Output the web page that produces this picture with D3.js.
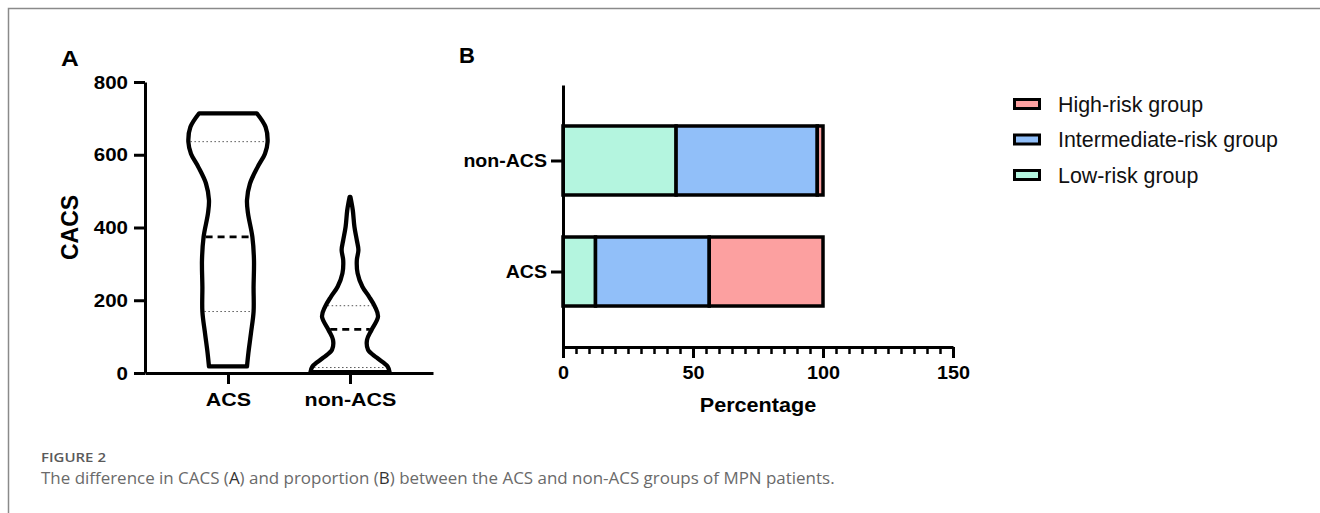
<!DOCTYPE html>
<html>
<head>
<meta charset="utf-8">
<script src="https://cdn.jsdelivr.net/npm/d3@7"></script>
<style>
  body { margin: 0; background: #fff; }
  svg text { font-family: "Liberation Sans", Arial, sans-serif; }
</style>
</head>
<body>
<script>
const w = 1320;
const h = 513;

// panel A: violin outlines (CACS value, relative half-width)
const groups = ["ACS", "non-ACS"];
const acsCacs = [18, 55, 110, 169, 237, 310, 374, 439, 475, 521, 566, 603, 635, 676, 714];
const acsDensity = [0.475, 0.51, 0.575, 0.64, 0.64, 0.65, 0.61, 0.5, 0.475, 0.55, 0.74, 0.925, 0.99, 0.94, 0.72];
const nonAcsCacs = [2, 18, 42, 64, 91, 119, 155, 182, 210, 237, 274, 310, 338, 365, 402, 447, 484];
const nonAcsDensity = [0.99, 0.94, 0.67, 0.45, 0.425, 0.54, 0.7, 0.625, 0.475, 0.31, 0.19, 0.17, 0.21, 0.17, 0.11, 0.07, 0.01];
// quartiles: lower, median, upper
const acsQuartiles = [169, 374, 636];
const nonAcsQuartiles = [15, 120, 185];
const cacsTicks = [0, 200, 400, 600, 800];

// panel B: percentage of each risk group
const categories = ["non-ACS", "ACS"];
const riskGroups = ["Low-risk group", "Intermediate-risk group", "High-risk group"];
const lowRisk = [43.5, 12.5];
const intermediateRisk = [54.3, 43.75];
const highRisk = [2.2, 43.75];
const percentTicks = [0, 50, 100, 150];
const legendOrder = ["High-risk group", "Intermediate-risk group", "Low-risk group"];

const colors = {
  "Low-risk group": "#b4f5df",
  "Intermediate-risk group": "#91bff9",
  "High-risk group": "#fca0a0"
};

const svg = d3.select("body").append("svg").attr("width", w).attr("height", h);

// widen text horizontally around its own x (the source figure is a bit stretched)
function stretch(sel, k) {
  sel.each(function () {
    const x = +this.getAttribute("x") || 0;
    d3.select(this).attr("transform", "matrix(" + k + ",0,0,1," + ((1 - k) * x) + ",0)");
  });
}

function styleAxis(g, size, k) {
  g.select(".domain").attr("stroke-width", 3);
  g.selectAll(".tick line").attr("stroke-width", 3);
  const t = g.selectAll("text")
    .attr("fill", "#000")
    .style("font-size", size + "px")
    .style("font-weight", "bold")
    .style("font-family", "'Liberation Sans', Arial, sans-serif");
  if (k) stretch(t, k);
}

// frame around the figure
svg.append("path")
  .attr("d", "M8.5," + h + "V8.5H" + w)
  .attr("fill", "none")
  .attr("stroke", "#8a8a8a")
  .attr("stroke-width", 1.5);

// ---------- panel A ----------
const aLeft = 145, aRight = 433, aTop = 82, aBottom = 373;

const yA = d3.scaleLinear().domain([0, 800]).range([aBottom, aTop]);
const xA = d3.scalePoint().domain(groups).range([aLeft, aRight]).padding(0.68);
const widthA = d3.scaleLinear().domain([0, 1]).range([0, 40]);

const panelA = svg.append("g");

const violins = [
  { name: "ACS", cacs: acsCacs, density: acsDensity, q: acsQuartiles },
  { name: "non-ACS", cacs: nonAcsCacs, density: nonAcsDensity, q: nonAcsQuartiles }
];

violins.forEach(function (v) {
  const cx = xA(v.name);
  const pts = v.cacs.map((c, i) => ({ c: c, d: v.density[i] }));
  const area = d3.area()
    .curve(d3.curveCatmullRom.alpha(0.5))
    .y(d => yA(d.c))
    .x0(d => cx - widthA(d.d))
    .x1(d => cx + widthA(d.d));

  const halfAt = d3.scaleLinear().domain(v.cacs).range(v.density);

  v.q.forEach(function (q, i) {
    const hw = widthA(halfAt(q)) - 2;
    panelA.append("line")
      .attr("x1", cx - hw).attr("x2", cx + hw)
      .attr("y1", yA(q)).attr("y2", yA(q))
      .attr("stroke", i === 1 ? "#000" : "#555")
      .attr("stroke-width", i === 1 ? 2.8 : 1)
      .attr("stroke-dasharray", i === 1 ? "7,5" : "1.5,2.5");
  });

  panelA.append("path")
    .attr("d", area(pts))
    .attr("fill", "none")
    .attr("stroke", "#000")
    .attr("stroke-width", 4.3)
    .attr("stroke-linejoin", "round");
});

const yAxisA = panelA.append("g")
  .attr("transform", "translate(" + aLeft + ",0)")
  .call(d3.axisLeft(yA).tickValues(cacsTicks).tickSize(11).tickSizeOuter(0).tickPadding(6));
styleAxis(yAxisA, 19, 1.08);

const xAxisA = panelA.append("g")
  .attr("transform", "translate(0," + aBottom + ")")
  .call(d3.axisBottom(xA).tickSize(11).tickSizeOuter(0).tickPadding(9));
styleAxis(xAxisA, 19, 1.13);

panelA.append("text")
  .attr("transform", "translate(78,227.5) rotate(-90) scale(1,1.07)")
  .attr("text-anchor", "middle")
  .style("font-size", "23px")
  .style("font-weight", "bold")
  .text("CACS");

const labelA = panelA.append("text")
  .attr("x", 61).attr("y", 66)
  .style("font-size", "22px")
  .style("font-weight", "bold")
  .text("A");
stretch(labelA, 1.12);

// ---------- panel B ----------
const bLeft = 563, bRight = 953, bTop = 85, bBottom = 347;

const xB = d3.scaleLinear().domain([0, 150]).range([bLeft, bRight]);
const yB = d3.scalePoint().domain(categories).range([bTop, bBottom]).padding(0.68);
const barHeight = 69;

const table = categories.map((c, i) => ({
  category: c,
  "Low-risk group": lowRisk[i],
  "Intermediate-risk group": intermediateRisk[i],
  "High-risk group": highRisk[i]
}));

const stacked = d3.stack().keys(riskGroups)(table);

const panelB = svg.append("g");

panelB.selectAll(".layer")
  .data(stacked)
  .enter()
  .append("g")
  .attr("class", "layer")
  .attr("fill", d => colors[d.key])
  .selectAll("rect")
  .data(d => d)
  .enter()
  .append("rect")
  .attr("x", d => xB(d[0]))
  .attr("y", d => yB(d.data.category) - barHeight / 2)
  .attr("width", d => xB(d[1]) - xB(d[0]))
  .attr("height", barHeight)
  .attr("stroke", "#000")
  .attr("stroke-width", 3.5);

const minorB = panelB.append("g")
  .attr("transform", "translate(0," + bBottom + ")")
  .call(d3.axisBottom(xB).tickValues(d3.range(0, 151, 5)).tickSize(7).tickFormat(""));
minorB.select(".domain").remove();
minorB.selectAll(".tick line").attr("stroke-width", 2.5);

const xAxisB = panelB.append("g")
  .attr("transform", "translate(0," + bBottom + ")")
  .call(d3.axisBottom(xB).tickValues(percentTicks).tickSize(11).tickSizeOuter(0).tickPadding(8));
styleAxis(xAxisB, 18, 1.1);

const yAxisB = panelB.append("g")
  .attr("transform", "translate(" + bLeft + ",0)")
  .call(d3.axisLeft(yB).tickSize(12).tickSizeOuter(0).tickPadding(4));
styleAxis(yAxisB, 19, 1.03);

const pct = panelB.append("text")
  .attr("x", (bLeft + bRight) / 2).attr("y", 412)
  .attr("text-anchor", "middle")
  .style("font-size", "21px")
  .style("font-weight", "bold")
  .text("Percentage");
stretch(pct, 1.03);

panelB.append("text")
  .attr("x", 459).attr("y", 63)
  .style("font-size", "22px")
  .style("font-weight", "bold")
  .text("B");

// legend
const legend = panelB.selectAll(".legend")
  .data(legendOrder)
  .enter()
  .append("g")
  .attr("class", "legend")
  .attr("transform", (d, i) => "translate(1013," + (104 + i * 35.5) + ")");

legend.append("rect")
  .attr("x", 1.5).attr("y", -4.5)
  .attr("width", 25).attr("height", 9)
  .attr("fill", d => colors[d])
  .attr("stroke", "#000")
  .attr("stroke-width", 3);

legend.append("text")
  .attr("x", 45).attr("y", 7.5)
  .style("font-size", "21.4px")
  .attr("fill", "#111")
  .text(d => d);

// caption
const figLabel = svg.append("text")
  .attr("x", 41).attr("y", 462)
  .attr("fill", "#5a5a5a")
  .style("font-family", "'Open Sans', Lato, sans-serif")
  .style("font-size", "12.5px")
  .style("font-weight", "600")
  .text("FIGURE 2");
stretch(figLabel, 65 / figLabel.node().getComputedTextLength());

const caption = svg.append("text")
  .attr("x", 41).attr("y", 484)
  .attr("fill", "#6a6a6a")
  .style("font-family", "'Open Sans', Lato, sans-serif")
  .style("font-size", "16.5px");
caption.append("tspan").text("The difference in CACS (");
caption.append("tspan").attr("fill", "#333").text("A");
caption.append("tspan").text(") and proportion (");
caption.append("tspan").attr("fill", "#333").text("B");
caption.append("tspan").text(") between the ACS and non-ACS groups of MPN patients.");
stretch(caption, 794 / caption.node().getComputedTextLength());
</script>
</body>
</html>
